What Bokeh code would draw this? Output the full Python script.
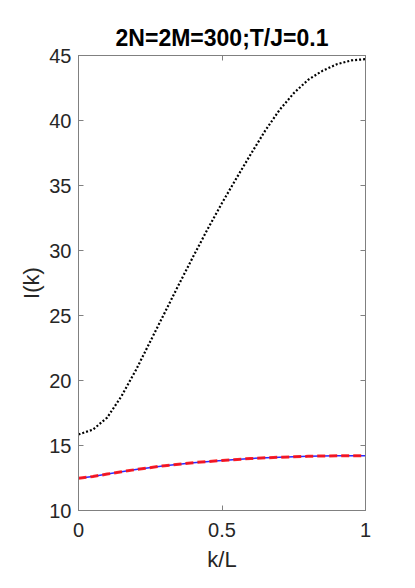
from bokeh.plotting import figure
from bokeh.models import LinearAxis, FixedTicker, Range1d
from bokeh.embed import file_html
from bokeh.resources import INLINE

# data
k_black = [0.0, 0.05, 0.1, 0.15, 0.2, 0.25, 0.3, 0.35, 0.4, 0.45, 0.5,
           0.55, 0.6, 0.65, 0.7, 0.75, 0.8, 0.85, 0.9, 0.95, 1.0]
I_black = [15.85, 16.22, 17.15, 18.8, 20.8, 23.0, 25.2, 27.4, 29.55, 31.65, 33.65,
           35.55, 37.4, 39.2, 40.8, 42.1, 43.13, 43.82, 44.33, 44.62, 44.72]
k_blue = [0.0, 0.05, 0.1, 0.15, 0.2, 0.3, 0.4, 0.5, 0.6, 0.7, 0.8, 0.9, 1.0]
I_blue = [12.48, 12.62, 12.8, 12.98, 13.15, 13.45, 13.68, 13.85, 14.0, 14.1, 14.17, 14.21, 14.22]
k_red = [0.0, 0.05, 0.1, 0.15, 0.2, 0.3, 0.4, 0.5, 0.6, 0.7, 0.8, 0.9, 1.0]
I_red = [12.48, 12.62, 12.8, 12.98, 13.15, 13.45, 13.68, 13.85, 14.0, 14.1, 14.17, 14.21, 14.22]
x_ticks = [0, 0.5, 1]
x_tick_labels = {0: "0", 0.5: "0.5", 1: "1"}
y_ticks = [10, 15, 20, 25, 30, 35, 40, 45]

FONT = "Liberation Sans"
AX = "#808080"
TXT = "#262626"

p = figure(frame_width=287, frame_height=455, output_backend="svg", toolbar_location=None,
           x_range=Range1d(0, 1), y_range=Range1d(10, 45),
           min_border_left=78, min_border_right=35, min_border_top=55, min_border_bottom=62,
           title="2N=2M=300;T/J=0.1")
p.background_fill_color = "white"
p.border_fill_color = "white"
p.grid.visible = False
p.outline_line_color = AX
p.outline_line_width = 1

p.title.text_font = FONT
p.title.text_font_size = "23px"
p.title.text_font_style = "bold"
p.title.align = "center"
p.title.text_color = "#000000"

def style(ax, labels=True):
    ax.axis_line_color = AX
    ax.major_tick_line_color = AX
    ax.major_tick_in = 5
    ax.major_tick_out = 0
    ax.minor_tick_line_color = None
    ax.major_label_text_font = FONT
    ax.major_label_text_font_size = "20px"
    ax.major_label_text_color = TXT if labels else None
    ax.major_label_text_line_height = 1.0
    ax.axis_label_text_font = FONT
    ax.axis_label_text_font_size = "22px"
    ax.axis_label_text_font_style = "normal"
    ax.axis_label_text_color = TXT
    ax.axis_label_text_line_height = 1.0

xa = p.xaxis[0]
xa.ticker = FixedTicker(ticks=x_ticks)
xa.major_label_overrides = x_tick_labels
xa.axis_label = "k/L"
style(xa)
xa.major_label_standoff = 12
xa.axis_label_standoff = 7

ya = p.yaxis[0]
ya.ticker = FixedTicker(ticks=y_ticks)
ya.axis_label = "I(k)"
style(ya)
ya.major_label_standoff = 7
ya.axis_label_standoff = 2

top = LinearAxis(ticker=FixedTicker(ticks=x_ticks), major_label_standoff=0)
style(top, labels=False)
p.add_layout(top, "above")
right = LinearAxis(ticker=FixedTicker(ticks=y_ticks), major_label_standoff=0)
style(right, labels=False)
p.add_layout(right, "right")

p.line(k_black, I_black, line_color="black", line_width=2.2, line_dash="2 2")
p.line(k_blue, I_blue, line_color="#2b2bff", line_width=1.5)
p.line(k_red, I_red, line_color="#ff1010", line_width=3, line_dash="8 4", line_alpha=0.9)

open("out.html", "w").write(file_html(p, INLINE))
